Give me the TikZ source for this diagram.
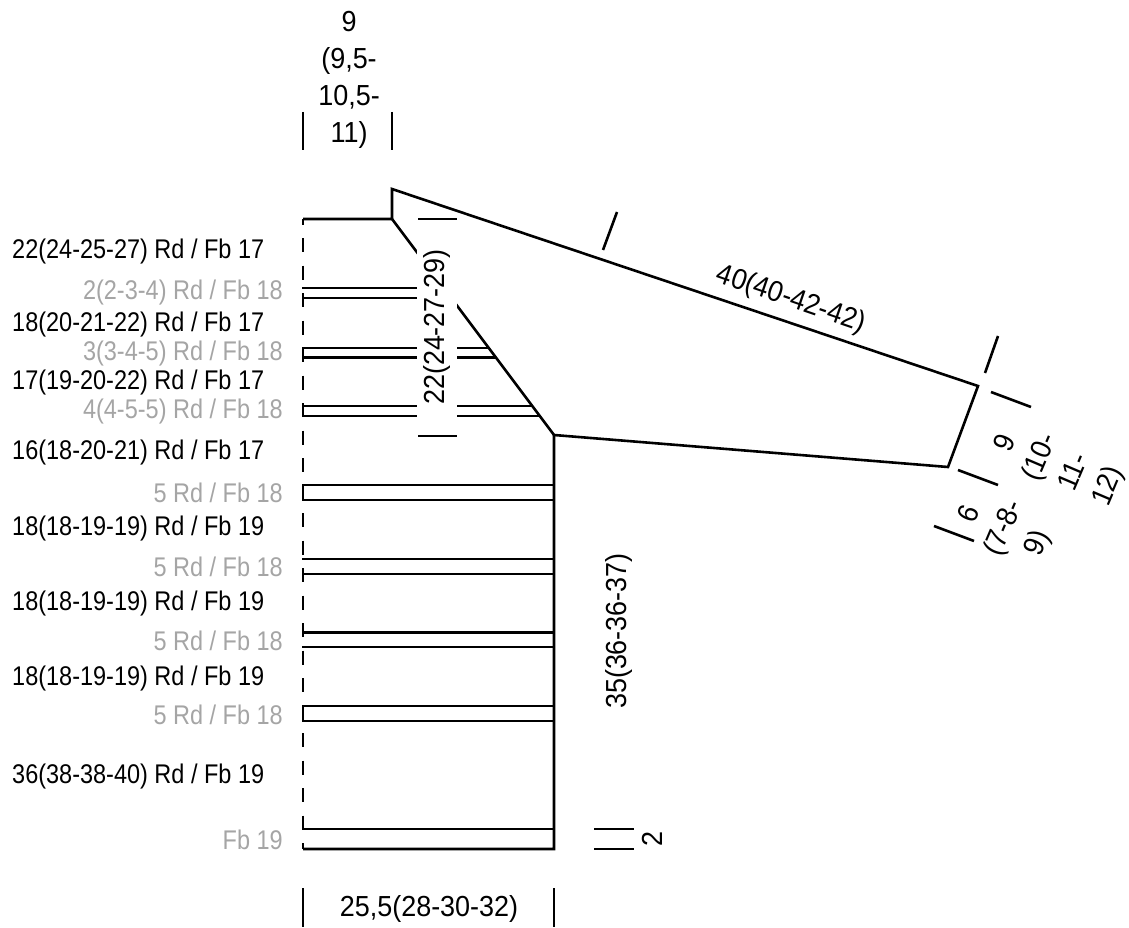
\documentclass[tikz,border=0pt]{standalone}
\usepackage{xcolor}
\usepackage{fontspec}
\setmainfont{Liberation Sans}
\newfontfamily\rowfont[FakeStretch=0.87]{Liberation Sans}
\newfontfamily\dimfont[FakeStretch=0.93]{Liberation Sans}
\definecolor{sizegray}{RGB}{165,165,165}

\begin{document}
\begin{tikzpicture}[
    x=1pt, y=-1pt,
    line join=miter,
    outline/.style={line width=2.6pt, black},
    foldline/.style={line width=2.6pt, black, dash pattern=on 14pt off 13.5pt, dash phase=8.5pt},
    dimtick/.style={line width=2.6pt, black},
    rowblack/.style={anchor=west, inner sep=0pt, font=\rowfont\fontsize{27}{37}\selectfont},
    rowgray/.style={anchor=east, inner sep=0pt, text=sizegray, font=\rowfont\fontsize{27}{37}\selectfont},
    dimlabel/.style={inner sep=0pt, align=center, font=\dimfont\fontsize{29}{37}\selectfont}
]
    \useasboundingbox (0,0) rectangle (1129,928);

    % Outline points
    \coordinate (foldtop) at (303,219);
    \coordinate (foldbottom) at (303,849);
    \coordinate (neck) at (392,219);
    \coordinate (shoulder) at (392,189);
    \coordinate (cuffupper) at (978,386);
    \coordinate (cufflower) at (948,467);
    \coordinate (armpit) at (554,435);
    \coordinate (hem) at (554,849);

    % Body and sleeve
    \draw[foldline] (foldtop) -- (foldbottom);
    \draw[outline] (foldtop) -- (neck) -- (shoulder) -- (cuffupper) -- (cufflower) -- (armpit) -- (hem) -- (foldbottom);
    \draw[outline] (neck) -- (armpit);

    % Stripes
    \draw[outline] (302,288) -- (420,288);
    \draw[outline] (302,298) -- (420,298);
    \draw[outline] (302,348) -- (488.5,348);
    \draw[outline] (302,357.5) -- (496,357.5);
    \draw[outline] (302,406) -- (532,406);
    \draw[outline] (302,416) -- (539.5,416);
    \draw[outline] (302,485) -- (armpit |- 0,485);
    \draw[outline] (302,500) -- (armpit |- 0,500);
    \draw[outline] (302,559) -- (armpit |- 0,559);
    \draw[outline] (302,574) -- (armpit |- 0,574);
    \draw[outline] (302,632.5) -- (armpit |- 0,632.5);
    \draw[outline] (302,647) -- (armpit |- 0,647);
    \draw[outline] (302,706) -- (armpit |- 0,706);
    \draw[outline] (302,721) -- (armpit |- 0,721);
    \draw[outline] (302,829) -- (armpit |- 0,829);

    % Armhole measure
    \node[dimlabel, fill=white, rotate=90, minimum width=205pt, minimum height=40pt] (armhole) at (437,327) {\raisebox{-2.5pt}{22(24-27-29)}};
    \draw[dimtick] (418,219) -- (457,219);
    \draw[dimtick] (418,436) -- (457,436);

    % Neck measure
    \node[dimlabel] (neckwidth) at (349,80) {9\\(9,5-\\10,5-\\11)};
    \draw[dimtick] (303,112) -- (303,150);
    \draw[dimtick] (392,112) -- (392,150);

    % Sleeve measures
    \node[dimlabel, rotate=-19] (sleevelength) at (791,299.5) {40(40-42-42)};
    \draw[dimtick] (617,212) -- (603,250);
    \draw[dimtick] (998,336) -- (985,373);
    \node[dimlabel, rotate=67] (cuffwidth) at (1058,465) {9\\(10-\\11-\\12)};
    \draw[dimtick] (991,392) -- (1031,407);
    \draw[dimtick] (958,470) -- (998,485);
    \node[dimlabel, rotate=67] (cuffband) at (1005,529) {6\\(7-8-\\9)};
    \draw[dimtick] (934,526) -- (974,541);

    % Body measures
    \node[dimlabel, rotate=90] (sidelength) at (619,631) {35(36-36-37)};
    \node[dimlabel, rotate=90] (hemband) at (652,839) {2};
    \draw[dimtick] (594,829) -- (634,829);
    \draw[dimtick] (594,849) -- (634,849);
    \node[dimlabel] (bodywidth) at (429,909) {25,5(28-30-32)};
    \draw[dimtick] (303,888) -- (303,927);
    \draw[dimtick] (554,888) -- (554,927);

    % Row counts
    \node[rowblack] (rowa) at (12,251.5) {22(24-25-27) Rd / Fb 17};
    \node[rowgray] (rowb) at (283,292.5) {2(2-3-4) Rd / Fb 18};
    \node[rowblack] (rowc) at (12,324.5) {18(20-21-22) Rd / Fb 17};
    \node[rowgray] (rowd) at (283,353.5) {3(3-4-5) Rd / Fb 18};
    \node[rowblack] (rowe) at (12,382.5) {17(19-20-22) Rd / Fb 17};
    \node[rowgray] (rowf) at (283,411.5) {4(4-5-5) Rd / Fb 18};
    \node[rowblack] (rowg) at (12,452.5) {16(18-20-21) Rd / Fb 17};
    \node[rowgray] (rowh) at (283,492.5) {5 Rd / Fb 18};
    \node[rowblack] (rowi) at (12,528.5) {18(18-19-19) Rd / Fb 19};
    \node[rowgray] (rowj) at (283,566.5) {5 Rd / Fb 18};
    \node[rowblack] (rowk) at (12,603.5) {18(18-19-19) Rd / Fb 19};
    \node[rowgray] (rowl) at (283,640.5) {5 Rd / Fb 18};
    \node[rowblack] (rowm) at (12,678.5) {18(18-19-19) Rd / Fb 19};
    \node[rowgray] (rown) at (283,714.5) {5 Rd / Fb 18};
    \node[rowblack] (rowo) at (12,776.5) {36(38-38-40) Rd / Fb 19};
    \node[rowgray] (rowp) at (283,839.5) {Fb 19};
\end{tikzpicture}
\end{document}
